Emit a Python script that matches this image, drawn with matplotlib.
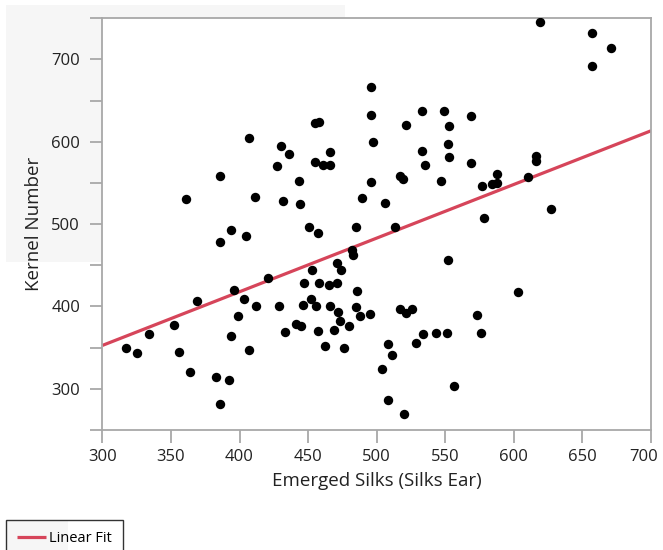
import numpy as np
import matplotlib
matplotlib.use("Agg")
import matplotlib.pyplot as plt
from matplotlib.patches import Rectangle
from matplotlib.ticker import MultipleLocator
from matplotlib.transforms import ScaledTranslation

# Emerged Silks (Silks Ear) vs Kernel Number
silks = [361, 386, 407, 411, 427, 430, 436, 432, 443, 444, 455, 458, 455, 461, 466, 466,
         489, 496, 497, 496, 496, 619, 657, 671, 657, 533, 549, 569, 521, 553, 533, 552,
         553, 535, 569, 517, 519, 547, 506, 577, 584, 588, 588, 610, 616, 616, 627, 578,
         317, 325, 334, 352, 356, 364, 369, 383, 392, 386, 386, 394, 405, 394, 396, 399,
         403, 407, 412, 421, 429, 433, 441, 445, 447, 446, 452, 453, 456, 457, 458, 451,
         457, 462, 465, 466, 469, 471, 471, 472, 473, 474, 476, 480, 482, 483, 485, 486,
         485, 488, 495, 504, 513, 552, 603, 517, 521, 526, 573, 576, 508, 511, 508, 520,
         529, 534, 543, 551, 556]
kernels = [531, 558, 605, 533, 571, 595, 585, 528, 552, 524, 623, 624, 575, 572, 572, 588,
           532, 551, 600, 632, 666, 745, 732, 714, 692, 638, 638, 631, 621, 619, 589, 597,
           582, 572, 574, 559, 555, 552, 526, 546, 549, 550, 561, 557, 583, 577, 519, 507,
           350, 344, 367, 377, 345, 320, 407, 314, 311, 281, 478, 493, 486, 364, 420, 388,
           409, 347, 400, 435, 400, 369, 379, 376, 429, 402, 409, 444, 400, 370, 429, 497,
           489, 352, 426, 401, 371, 453, 429, 393, 382, 444, 349, 376, 468, 462, 496, 419,
           399, 388, 391, 324, 497, 457, 417, 397, 392, 397, 390, 368, 354, 341, 287, 269,
           356, 366, 368, 368, 304]

x_ticks = [300, 350, 400, 450, 500, 550, 600, 650, 700]
y_ticks = [300, 400, 500, 600, 700]

plt.rcParams['font.family'] = ['Open Sans', 'DejaVu Sans']

fig = plt.figure(figsize=(6.63, 5.5), dpi=100)
# light grey panels behind the top-left and the legend
fig.patches.append(Rectangle((6 / 663, 1 - 262 / 550), 339 / 663, 257 / 550,
                             transform=fig.transFigure, facecolor='#f6f6f6',
                             edgecolor='none', zorder=-10))
fig.patches.append(Rectangle((6 / 663, 0), 62 / 663, 29 / 550,
                             transform=fig.transFigure, facecolor='#f6f6f6',
                             edgecolor='none', zorder=-10))
ax = fig.add_axes([102.4 / 663, 1 - 430 / 550, (651 - 102.4) / 663, (430 - 18.3) / 550])

ax.scatter(silks, kernels, s=46, color='black', linewidth=0, zorder=3)

# linear fit of the data
slope, intercept = np.polyfit(silks, kernels, 1)
xs = np.array([300, 700])
fit_line, = ax.plot(xs, intercept + slope * xs, color='#d6455a', linewidth=2.3,
                    zorder=2, solid_capstyle='butt', label='Linear Fit')

ax.set_xlim(300, 700)
ax.set_ylim(250, 750)
ax.set_xticks(x_ticks)
ax.set_yticks(y_ticks)
ax.yaxis.set_minor_locator(MultipleLocator(50))

for s in ax.spines.values():
    s.set_color('#a8a8a8')
    s.set_linewidth(1.3)
ax.tick_params(which='both', color='#a8a8a8', width=1.3, labelsize=12, labelcolor='#222222')
ax.tick_params(which='major', length=9, pad=5)
ax.tick_params(which='minor', length=9)
ax.tick_params(axis='y', pad=7)

# the last x label is pushed left so it stays inside the picture
last = ax.get_xticklabels()[-1]
last.set_transform(last.get_transform() + ScaledTranslation(-7 / 100, 0, fig.dpi_scale_trans))

ax.set_xlabel('Emerged Silks (Silks Ear)', fontsize=13.5, color='#222222', labelpad=5)
ax.set_ylabel('Kernel Number', fontsize=13.5, color='#222222', labelpad=6)

leg = fig.legend(handles=[fit_line], loc='upper left', bbox_to_anchor=(5.7 / 663, 1 - 520 / 550),
                 fontsize=10.5, frameon=True, fancybox=False, handlelength=2.0,
                 handletextpad=0.25, borderpad=0.75, borderaxespad=0)
leg.get_frame().set_edgecolor('black')
leg.get_frame().set_facecolor('none')
leg.get_frame().set_linewidth(1.0)

fig.savefig('out.png', dpi=100)
